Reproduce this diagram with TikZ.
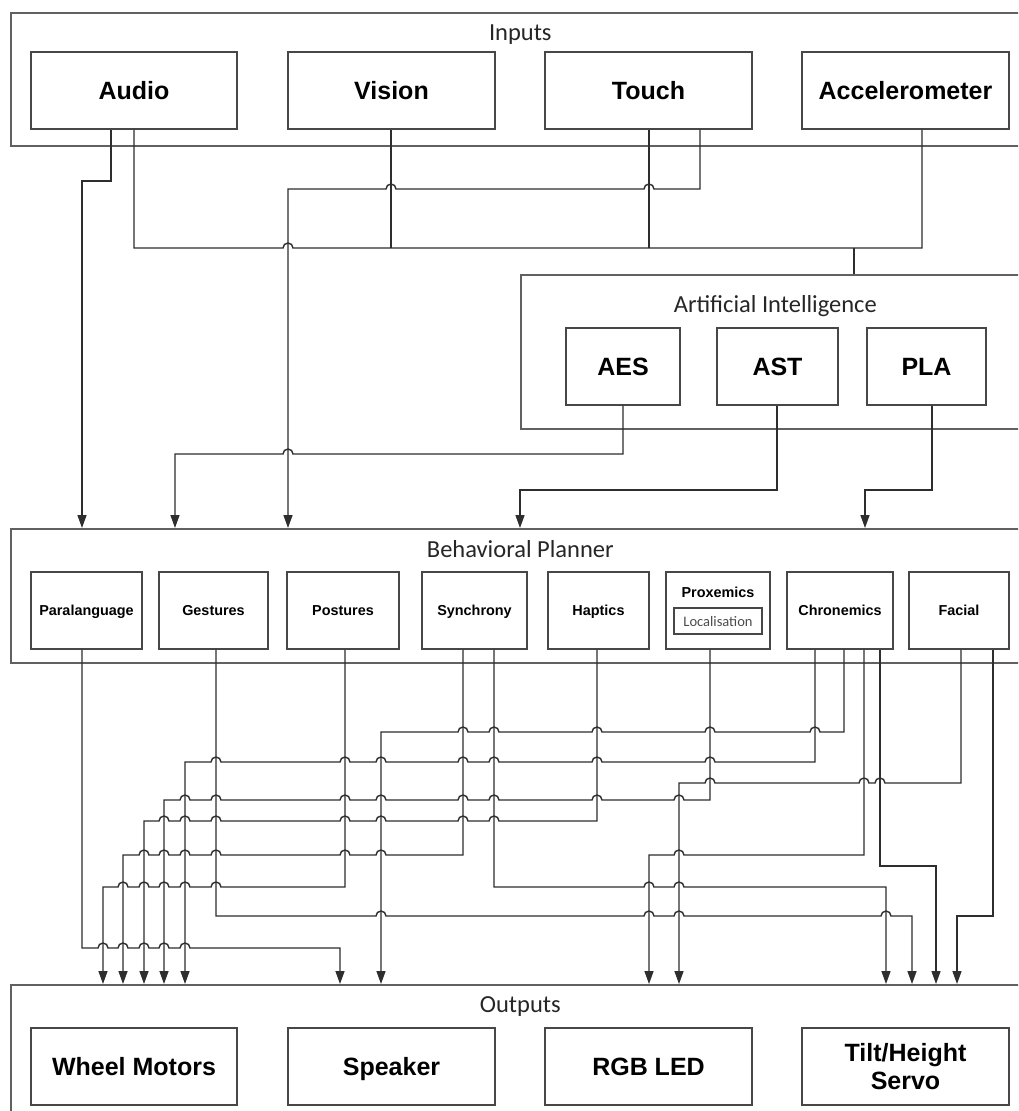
\documentclass[tikz,border=0pt]{standalone}
\usepackage{fontspec}
\setmainfont{Liberation Sans}
\newfontfamily\calfont{Carlito}
\usetikzlibrary{arrows.meta}

% line hops: a small arc over a crossing wire, going right or going left
\newcommand\hopR[2]{-- (#1-5,#2) arc[start angle=180,end angle=0,radius=5pt]}
\newcommand\hopL[2]{-- (#1+5,#2) arc[start angle=0,end angle=180,radius=5pt]}

\begin{document}
\begin{tikzpicture}[x=1pt,y=-1pt,
  frame/.style={draw=black!62, line width=1.6pt, inner sep=0pt, anchor=north west},
  box/.style={draw=black!72, line width=1.4pt, inner sep=0pt, align=center,
    font=\bfseries\fontsize{25}{28}\selectfont},
  oneline/.style={text height=20pt, text depth=3pt},
  minibox/.style={box, text height=12.5pt, text depth=2pt, font=\bfseries\fontsize{14.4}{17}\selectfont},
  sz/.style 2 args={minimum width=#1pt, minimum height=#2pt},
  title/.style={anchor=base, font=\calfont\fontsize{24.5}{28}\selectfont, text=black!85},
  wire/.style={draw=black!82, line width=1.4pt},
  feed/.style={wire, -{Triangle[length=13pt,width=9pt]}},
]
\fill[white] (0,0) rectangle (1018,1111);
\useasboundingbox (0,0) rectangle (1018,1111);
\clip (0,0) rectangle (1018,1111);

% group frames
\node[frame, sz={1019}{133}] (inp) at (10,12) {};
\node[frame, sz={509}{154}] (ai) at (520,274) {};
\node[frame, sz={1019}{134}] (bp) at (10,528) {};
\node[frame, sz={1019}{150}] (outp) at (10,984) {};

\node[title] (tinp) at ([yshift=-28pt]inp.north) {Inputs};
\node[title] (tai) at ([yshift=-38pt]ai.north) {Artificial Intelligence};
\node[title] (tbp) at ([yshift=-29pt]bp.north) {Behavioral Planner};
\node[title] (tout) at ([yshift=-28pt]outp.north) {Outputs};

% inputs
\node[box, oneline, sz={206}{77}] (audio) at (134,90.5) {Audio};
\node[box, oneline, sz={207}{77}] (vision) at (391.5,90.5) {Vision};
\node[box, oneline, sz={207}{77}] (touch) at (648.5,90.5) {Touch};
\node[box, oneline, sz={207}{77}] (accel) at (905.5,90.5) {Accelerometer};

% artificial intelligence
\node[box, oneline, sz={114}{77}] (aes) at (623,366.5) {AES};
\node[box, oneline, sz={121}{77}] (ast) at (777.5,366.5) {AST};
\node[box, oneline, sz={119}{77}] (pla) at (926.5,366.5) {PLA};

% behavioral planner
\node[minibox, sz={111}{77}] (para) at (86.5,610.5) {Paralanguage};
\node[minibox, sz={109}{77}] (gest) at (213.5,610.5) {Gestures};
\node[minibox, sz={112}{77}] (post) at (343,610.5) {Postures};
\node[minibox, sz={105}{77}] (sync) at (474.5,610.5) {Synchrony};
\node[minibox, sz={101}{77}] (hapt) at (598.5,610.5) {Haptics};
\node[minibox, sz={104}{77}] (prox) at (718,610.5) {};
\node[font=\bfseries\fontsize{14.4}{17}\selectfont, inner sep=0pt, anchor=base] (proxt) at (718,597.5) {Proxemics};
\node[draw=black!72, line width=1.2pt, sz={88}{26}, inner sep=0pt, text height=12pt, text depth=2pt,
  font=\calfont\fontsize{14.5}{17}\selectfont, text=black!70] (loc) at (718,621) {Localisation};
\node[minibox, sz={106}{77}] (chron) at (840,610.5) {Chronemics};
\node[minibox, sz={100}{77}] (facial) at (959,610.5) {Facial};

% outputs
\node[box, oneline, sz={206}{77}] (wheel) at (134,1066.5) {Wheel Motors};
\node[box, oneline, sz={207}{77}] (speaker) at (391.5,1066.5) {Speaker};
\node[box, oneline, sz={207}{77}] (rgb) at (648.5,1066.5) {RGB LED};
\node[box, sz={207}{77}] (servo) at (905.5,1066.5) {Tilt/Height\\Servo};

% ---- sensors to planner and AI ----
\draw[feed] (111,0 |- audio.south) -- (111,181) -- (82,181) -- (82,0 |- bp.north);
\draw[wire] (134,0 |- audio.south) -- (134,248) \hopR{288}{248} -- (922,248) -- (922,0 |- accel.south);
\draw[wire] (391,0 |- vision.south) -- (391,248);
\draw[wire] (649,0 |- touch.south) -- (649,248);
\coordinate (busjoin) at (854,248);
\draw[wire] (busjoin) -- (854,0 |- ai.north);
\draw[feed] (700,0 |- touch.south) -- (700,189) \hopL{649}{189} \hopL{391}{189} -- (288,189) -- (288,0 |- bp.north);

% ---- AI to planner ----
\draw[feed] (aes.south) -- (623,454) \hopL{288}{454} -- (175,454) -- (175,0 |- bp.north);
\draw[feed] (777,0 |- ast.south) -- (777,490) -- (520,490) -- (520,0 |- bp.north);
\draw[feed] (932,0 |- pla.south) -- (932,490) -- (865,490) -- (865,0 |- bp.north);

% ---- planner to outputs ----
% Paralanguage -> Speaker
\draw[feed] (82,0 |- para.south) -- (82,948) \hopR{103}{948} \hopR{123}{948} \hopR{144}{948}
  \hopR{164}{948} \hopR{185}{948} -- (340,948) -- (340,0 |- outp.north);
% Gestures -> Servo
\draw[feed] (216,0 |- gest.south) -- (216,916) \hopR{381}{916} \hopR{649}{916} \hopR{679}{916}
  \hopR{886}{916} -- (912,916) -- (912,0 |- outp.north);
% Postures -> Wheel Motors
\draw[feed] (345,0 |- post.south) -- (345,887) \hopL{216}{887} \hopL{185}{887} \hopL{164}{887}
  \hopL{144}{887} \hopL{123}{887} -- (103,887) -- (103,0 |- outp.north);
% Synchrony -> Wheel Motors
\draw[feed] (463,0 |- sync.south) -- (463,855) \hopL{381}{855} \hopL{345}{855} \hopL{216}{855}
  \hopL{185}{855} \hopL{164}{855} \hopL{144}{855} -- (123,855) -- (123,0 |- outp.north);
% Synchrony -> Servo
\draw[feed] (494,0 |- sync.south) -- (494,887) \hopR{649}{887} \hopR{679}{887} -- (886,887)
  -- (886,0 |- outp.north);
% Haptics -> Wheel Motors
\draw[feed] (597,0 |- hapt.south) -- (597,821) \hopL{494}{821} \hopL{463}{821} \hopL{381}{821}
  \hopL{345}{821} \hopL{216}{821} \hopL{185}{821} \hopL{164}{821} -- (144,821) -- (144,0 |- outp.north);
% Proxemics -> Wheel Motors
\draw[feed] (710,0 |- prox.south) -- (710,800) \hopL{679}{800} \hopL{597}{800} \hopL{494}{800}
  \hopL{463}{800} \hopL{381}{800} \hopL{345}{800} \hopL{216}{800} \hopL{185}{800} -- (164,800)
  -- (164,0 |- outp.north);
% Chronemics -> Wheel Motors
\draw[feed] (815,0 |- chron.south) -- (815,762) \hopL{710}{762} \hopL{597}{762} \hopL{494}{762}
  \hopL{463}{762} \hopL{381}{762} \hopL{345}{762} \hopL{216}{762} -- (185,762) -- (185,0 |- outp.north);
% Chronemics -> Speaker
\draw[feed] (844,0 |- chron.south) -- (844,732) \hopL{815}{732} \hopL{710}{732} \hopL{597}{732}
  \hopL{494}{732} \hopL{463}{732} -- (381,732) -- (381,0 |- outp.north);
% Chronemics -> RGB LED
\draw[feed] (864,0 |- chron.south) -- (864,855) \hopL{679}{855} -- (649,855) -- (649,0 |- outp.north);
% Chronemics -> Servo
\draw[feed] (880,0 |- chron.south) -- (880,866) -- (936,866) -- (936,0 |- outp.north);
% Facial -> RGB LED
\draw[feed] (961,0 |- facial.south) -- (961,783) \hopL{880}{783} \hopL{864}{783} \hopL{710}{783}
  -- (679,783) -- (679,0 |- outp.north);
% Facial -> Servo
\draw[feed] (993,0 |- facial.south) -- (993,916) -- (957,916) -- (957,0 |- outp.north);
\end{tikzpicture}
\end{document}
